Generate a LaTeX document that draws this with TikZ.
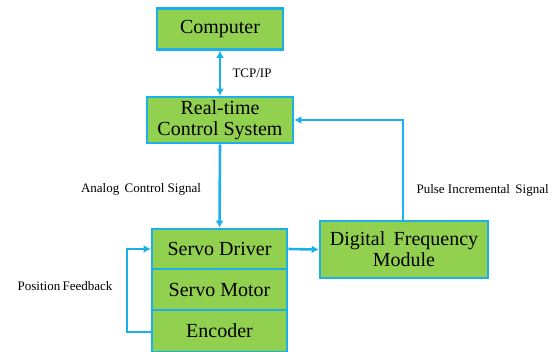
\documentclass[tikz,border=0pt]{standalone}
\usepackage{fontspec}
\setmainfont{Liberation Serif}
\newfontfamily\tnr{Liberation Serif}
\usetikzlibrary{arrows.meta}
\definecolor{boxgreen}{HTML}{92D050}
\definecolor{lineblue}{HTML}{1CB0EA}
\begin{document}
\begin{tikzpicture}[x=1pt,y=-1pt,
  blk/.style={draw=lineblue,fill=boxgreen,line width=2.6pt,inner sep=0pt,font=\tnr\fontsize{20}{21}\selectfont,align=center,text=black},
  conn/.style={draw=lineblue,line width=2.6pt,-{Latex[length=7pt,width=8pt]}},
  lbl/.style={font=\tnr\fontsize{13}{15}\selectfont,text=black}]
\useasboundingbox (0,0) rectangle (553,351);
\node[blk,minimum width=126pt,minimum height=41pt] (comp) at (220,29) {Computer};
\node[blk,minimum width=146pt,minimum height=46pt] (rts) at (220,120) {Real-time\\Control System};
\node[blk,minimum width=135pt,minimum height=40pt] (drv) at (219.5,249) {Servo Driver};
\node[blk,minimum width=135pt,minimum height=41pt] (mot) at (219.5,289.5) {Servo Motor};
\node[blk,minimum width=135pt,minimum height=42pt] (enc) at (219.5,331) {Encoder};
\node[blk,minimum width=168pt,minimum height=57pt] (dfm) at (404,249.5) {Digital\, Frequency\\Module};
\draw[conn,{Latex[length=7pt,width=8pt]}-{Latex[length=7pt,width=8pt]}] (comp.south) -- (rts.north);
\draw[conn] (rts.south) -- (drv.north);
\draw[conn] (drv.east) -- (dfm.west);
\draw[conn] (dfm.north -| 403,0) -- (403,120) -- (rts.east);
\coordinate (fbl) at (127,332);
\draw[conn] (enc.west |- fbl) -- (fbl) -- (127,249) -- (drv.west);
\node[lbl,anchor=west] (t1) at (229,73) {TCP/IP};
\node[lbl] (t2) at (141,189) {Analog\,\ Control Signal};
\node[lbl] (t3) at (65,286) {Position\hspace{-1pt} Feedback};
\node[lbl,anchor=west] (t4) at (413,190) {Pulse Incremental\,\ Signal};
\end{tikzpicture}
\end{document}
